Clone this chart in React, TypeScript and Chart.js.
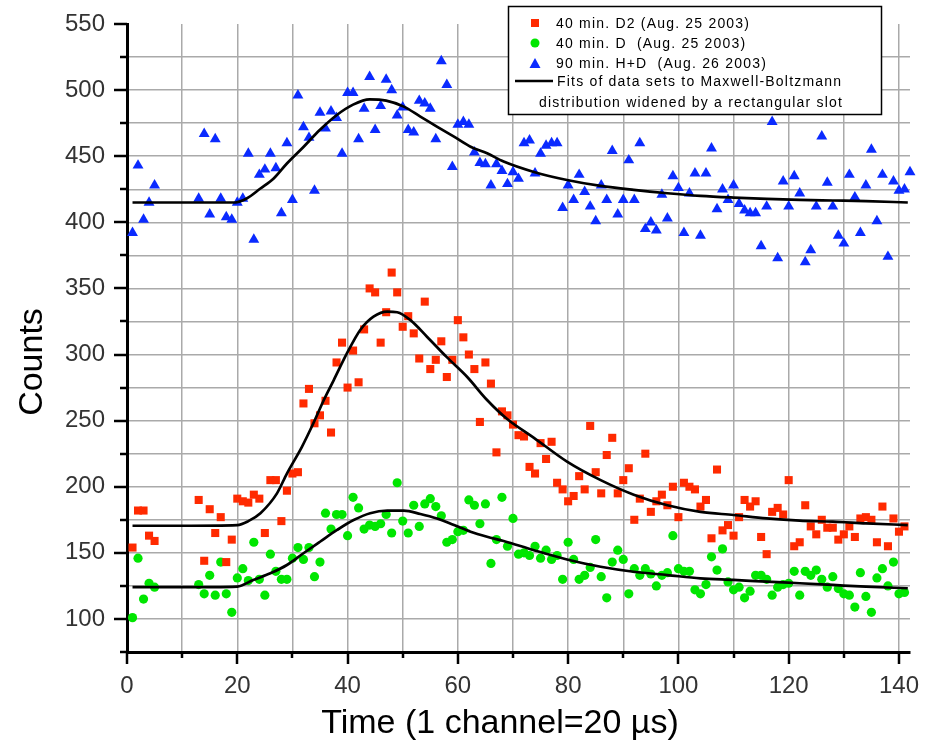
import React, { useEffect, useRef } from 'react';
import { Chart, registerables } from 'chart.js';

Chart.register(...registerables);

const FONT = '"Liberation Sans", Arial, Helvetica, sans-serif';

// ---- Data: 40 min. D2 (red squares)
const d2Channels = [1,2,3,4,5,13,14,15,16,17,18,19,20,21,22,23,24,25,26,27,28,29,30,31,32,33,34,35,36,37,38,39,40,41,42,43,44,45,46,47,48,49,50,51,52,53,54,55,56,57,58,59,60,61,62,63,64,65,66,67,68,69,70,71,72,73,74,75,76,77,78,79,80,81,82,83,84,85,86,87,88,89,90,91,92,93,94,95,96,97,98,99,100,101,102,103,104,105,106,107,108,109,110,111,112,113,114,115,116,117,118,119,120,121,122,123,124,125,126,127,128,129,130,131,132,133,134,135,136,137,138,139,140,141];
const d2Counts = [154,182,182,163,159,190,144,183,165,177,143,160,191,189,188,194,191,165,205,205,174,197,210,211,263,274,248,254,265,241,294,309,275,303,279,319,350,347,309,332,362,347,321,329,316,297,340,289,296,310,283,296,326,313,300,289,249,294,278,226,257,254,247,239,238,215,210,233,221,234,203,198,189,193,208,198,246,211,195,224,237,195,205,214,175,191,225,181,189,194,186,200,177,203,200,198,185,190,161,213,167,171,163,177,190,185,189,162,149,181,184,179,205,155,158,186,170,164,175,169,169,160,164,170,162,176,177,175,158,185,155,176,166,170];

// ---- Data: 40 min. D (green circles)
const dChannels = [1,2,3,4,5,13,14,15,16,17,18,19,20,21,22,23,24,25,26,27,28,29,30,31,32,33,34,35,36,37,38,39,40,41,42,43,44,45,46,47,48,49,50,51,52,53,54,55,56,57,58,59,60,61,62,63,64,65,66,67,68,69,70,71,72,73,74,75,76,77,78,79,80,81,82,83,84,85,86,87,88,89,90,91,92,93,94,95,96,97,98,99,100,101,102,103,104,105,106,107,108,109,110,111,112,113,114,115,116,117,118,119,120,121,122,123,124,125,126,127,128,129,130,131,132,133,134,135,136,137,138,139,140,141];
const dCounts = [101,146,115,127,124,126,119,133,118,143,119,105,131,138,129,158,130,118,149,136,130,130,146,154,145,154,132,143,180,168,179,179,163,192,184,168,171,170,172,179,165,203,174,165,186,170,187,191,185,178,158,160,166,167,190,186,172,187,142,160,192,155,176,149,150,148,155,146,152,145,148,130,158,145,130,133,139,160,132,116,143,152,145,119,138,133,138,134,125,133,135,163,138,136,136,122,119,126,147,137,153,128,122,124,116,121,133,133,130,118,124,126,127,136,118,136,133,137,130,124,132,123,119,118,109,135,117,105,131,138,125,143,119,120];

// ---- Data: 90 min. H+D (blue triangles)
const hdChannels = [1,2,3,4,5,13,14,15,16,17,18,19,20,21,22,23,24,25,26,27,28,29,30,31,32,33,34,35,36,37,38,39,40,41,42,43,44,45,46,47,48,49,50,51,52,53,54,55,56,57,58,59,60,61,62,63,64,65,66,67,68,69,70,71,72,73,74,75,76,77,78,79,80,81,82,83,84,85,86,87,88,89,90,91,92,93,94,95,96,97,98,99,100,101,102,103,104,105,106,107,108,109,110,111,112,113,114,115,116,117,118,119,120,121,122,123,124,125,126,127,128,129,130,131,132,133,134,135,136,137,138,139,140,141,142];
const hdCounts = [392,443,402,415,428,418,467,406,463,418,404,402,415,418,452,387,436,440,452,441,407,460,417,496,472,464,424,483,471,484,479,452,498,498,463,486,510,470,488,508,500,481,487,470,468,492,490,486,463,522,504,442,474,476,474,453,445,444,428,444,439,429,438,433,460,462,437,452,458,460,460,411,428,417,436,423,412,401,428,417,454,406,417,447,417,460,395,400,394,421,403,435,426,392,422,437,390,437,456,410,425,417,428,414,409,407,407,382,412,476,373,431,412,435,422,370,379,412,465,430,412,390,384,436,419,392,428,455,401,436,374,431,424,425,438];

// ---- Fit curves
const fitD2X = [1,10,20,22,24.2,27.2,29,31.7,33.8,35.7,37.5,39.9,42.3,44.7,47.2,49,51.4,54.4,58,61.7,65.3,69,73.8,79.8,85.9,91.9,98,104,110,116,122,128,134,141.6];
const fitD2Y = [170.5,170.5,171,174,180,195,210,230,248,265.6,280.7,301,318.6,328.6,332.5,332,326,313.5,298,283,265.6,251,237,219,205,194,186,181,178.6,176,174.3,173.6,172.3,171];
const fitDX = [1,10,20,22.9,26,29,32,35,38.1,41.1,44.1,47.2,50.2,53.2,56.2,59.3,62.3,65.3,68.3,73.8,79.8,85.9,91.9,98,104,110,116,122,128,134,141.6];
const fitDY = [124,124,124.5,129.5,134.5,140.8,149.7,158.4,167.3,174.8,180,181.9,181.9,179.4,176,171,166,162.2,159,152,145,139.5,135.7,133.2,130.7,129.5,128.2,127,125.7,124.4,123.2];
const fitHDX = [1,10,19.6,21.7,24.2,26.6,29,32,35,38,41,44,47,50.2,53.2,56.2,59.3,62.3,65.3,68.3,73.8,79.8,85.9,91.9,98,104,110,116,122,128,134,141.6];
const fitHDY = [415,415,415,418,425.6,433.2,444.5,457,470,481,489,493,492,487.5,480,472.4,464.8,457.2,452.2,446,438.1,432,427.5,424.5,422,420,418.7,417.7,417,416.5,416,415];

const legendLabels = [
  '40 min. D2 (Aug. 25 2003)',
  '40 min. D  (Aug. 25 2003)',
  '90 min. H+D  (Aug. 26 2003)',
  'Fits of data sets to Maxwell-Boltzmann',
  'distribution widened by a rectangular slot',
];
const xTitle = 'Time (1 channel=20 µs)';
const yTitle = 'Counts';

const RED = '#ff2a00';
const GREEN = '#00e600';
const BLUE = '#0a2aff';

const toPts = (xs: number[], ys: number[]) => xs.map((x, i) => ({ x, y: ys[i] }));

const tickMarks = {
  id: 'tickMarks',
  afterDraw(chart: any) {
    const { ctx, chartArea } = chart;
    const xs = chart.scales.x;
    const ys = chart.scales.y;
    ctx.save();
    ctx.strokeStyle = '#000';
    ctx.lineWidth = 2.5;
    xs.ticks.forEach((t: any) => {
      const px = Math.round(xs.getPixelForValue(t.value));
      const len = t.value % 20 === 0 ? 12 : 6;
      ctx.beginPath();
      ctx.moveTo(px, chartArea.bottom);
      ctx.lineTo(px, chartArea.bottom + len);
      ctx.stroke();
    });
    ys.ticks.forEach((t: any) => {
      const py = Math.round(ys.getPixelForValue(t.value));
      const len = t.value % 50 === 0 ? 13 : 7;
      ctx.beginPath();
      ctx.moveTo(chartArea.left, py);
      ctx.lineTo(chartArea.left - len, py);
      ctx.stroke();
    });

    // axis titles
    ctx.fillStyle = '#000';
    ctx.font = '34px ' + FONT;
    ctx.textAlign = 'center';
    ctx.textBaseline = 'middle';
    ctx.fillText(xTitle, chartArea.left + 373, chartArea.bottom + 72);
    ctx.translate(33, chartArea.top + 338);
    ctx.rotate(-Math.PI / 2);
    ctx.fillText(yTitle, 0, 0);
    ctx.restore();
  },
};

const legendBox = {
  id: 'legendBox',
  afterDraw(chart: any) {
    const ctx = chart.ctx;
    const ca = chart.chartArea;
    const bx = ca.right - 402;
    const by = 6;
    const bw = 374;
    const bh = 109;
    ctx.save();
    ctx.fillStyle = '#fff';
    ctx.fillRect(bx, by, bw, bh);
    ctx.strokeStyle = '#000';
    ctx.lineWidth = 1.5;
    ctx.strokeRect(bx + 0.5, by + 0.5, bw - 1, bh - 1);

    const symX = bx + 27;
    ctx.fillStyle = RED;
    ctx.fillRect(symX - 4, by + 17 - 4, 8, 8);
    ctx.fillStyle = GREEN;
    ctx.beginPath();
    ctx.arc(symX, by + 37, 4.5, 0, Math.PI * 2);
    ctx.fill();
    ctx.fillStyle = BLUE;
    ctx.beginPath();
    ctx.moveTo(symX, by + 52);
    ctx.lineTo(symX + 5.5, by + 62);
    ctx.lineTo(symX - 5.5, by + 62);
    ctx.closePath();
    ctx.fill();
    ctx.strokeStyle = '#000';
    ctx.lineWidth = 2.7;
    ctx.beginPath();
    ctx.moveTo(bx + 7, by + 75);
    ctx.lineTo(bx + 45, by + 75);
    ctx.stroke();

    ctx.fillStyle = '#000';
    ctx.font = '14px ' + FONT;
    (ctx as any).letterSpacing = '1.2px';
    ctx.textBaseline = 'middle';
    ctx.textAlign = 'left';
    ctx.fillText(legendLabels[0], bx + 48, by + 18);
    ctx.fillText(legendLabels[1], bx + 48, by + 38);
    ctx.fillText(legendLabels[2], bx + 48, by + 58);
    ctx.fillText(legendLabels[3], bx + 49, by + 76);
    ctx.fillText(legendLabels[4], bx + 31, by + 97);
    ctx.restore();
  },
};

export default function App() {
  const ref = useRef<HTMLCanvasElement | null>(null);
  useEffect(() => {
    if (!ref.current) return;
    const chart = new Chart(ref.current, {
      type: 'scatter',
      data: {
        datasets: [
          { label: 'fitD2', data: toPts(fitD2X, fitD2Y), showLine: true, borderColor: '#000', borderWidth: 2.7, pointRadius: 0, cubicInterpolationMode: 'monotone', order: 0 } as any,
          { label: 'fitD', data: toPts(fitDX, fitDY), showLine: true, borderColor: '#000', borderWidth: 2.7, pointRadius: 0, cubicInterpolationMode: 'monotone', order: 0 } as any,
          { label: 'fitHD', data: toPts(fitHDX, fitHDY), showLine: true, borderColor: '#000', borderWidth: 2.7, pointRadius: 0, cubicInterpolationMode: 'monotone', order: 0 } as any,
          { label: legendLabels[0], data: toPts(d2Channels, d2Counts), pointStyle: 'rect', pointRadius: 5.7, backgroundColor: RED, borderColor: RED, borderWidth: 0, order: 1, clip: false } as any,
          { label: legendLabels[1], data: toPts(dChannels, dCounts), pointStyle: 'circle', pointRadius: 4.6, backgroundColor: GREEN, borderColor: GREEN, borderWidth: 0, order: 1, clip: false } as any,
          { label: legendLabels[2], data: toPts(hdChannels, hdCounts), pointStyle: 'triangle', pointRadius: 6.3, backgroundColor: BLUE, borderColor: BLUE, borderWidth: 0, order: 1, clip: false } as any,
        ],
      },
      options: {
        responsive: false,
        animation: false,
        devicePixelRatio: 1,
        layout: { padding: { left: 0, top: 24, right: 25, bottom: 0 } },
        plugins: { legend: { display: false }, tooltip: { enabled: false } },
        scales: {
          x: {
            type: 'linear',
            min: 0,
            max: 142,
            afterFit: (s: any) => { s.height = 95; },
            ticks: {
              stepSize: 10,
              includeBounds: false,
              autoSkip: false,
              maxRotation: 0,
              padding: 8,
              color: '#333',
              font: { family: FONT, size: 24 },
              callback: (v: any) => (Number(v) % 20 === 0 ? String(v) : ''),
            },
            grid: {
              color: (c: any) => (c.tick && c.tick.value === 0 ? 'rgba(0,0,0,0)' : '#aaaaaa'),
              lineWidth: 1.5,
              drawTicks: true,
              tickLength: 12,
              tickColor: 'rgba(0,0,0,0)',
            },
            border: { display: true, color: '#000', width: 3 },
            title: { display: false },
          },
          y: {
            type: 'linear',
            min: 75,
            max: 550,
            afterFit: (s: any) => { s.width = 127; },
            ticks: {
              stepSize: 25,
              autoSkip: false,
              padding: 9,
              color: '#333',
              font: { family: FONT, size: 24 },
              callback: (v: any) => (Number(v) % 50 === 0 ? String(v) : ''),
            },
            grid: {
              color: (c: any) => (c.tick && (c.tick.value === 550 || c.tick.value === 75) ? 'rgba(0,0,0,0)' : '#aaaaaa'),
              lineWidth: 1.5,
              drawTicks: true,
              tickLength: 13,
              tickColor: 'rgba(0,0,0,0)',
            },
            border: { display: true, color: '#000', width: 3 },
            title: { display: false },
          },
        },
      } as any,
      plugins: [tickMarks, legendBox],
    });
    return () => chart.destroy();
  }, []);

  return (
    <div style={{ position: 'absolute', left: 0, top: 0, width: 935, height: 747, background: '#fff' }}>
      <canvas ref={ref} width={935} height={747} style={{ display: 'block' }} />
    </div>
  );
}
